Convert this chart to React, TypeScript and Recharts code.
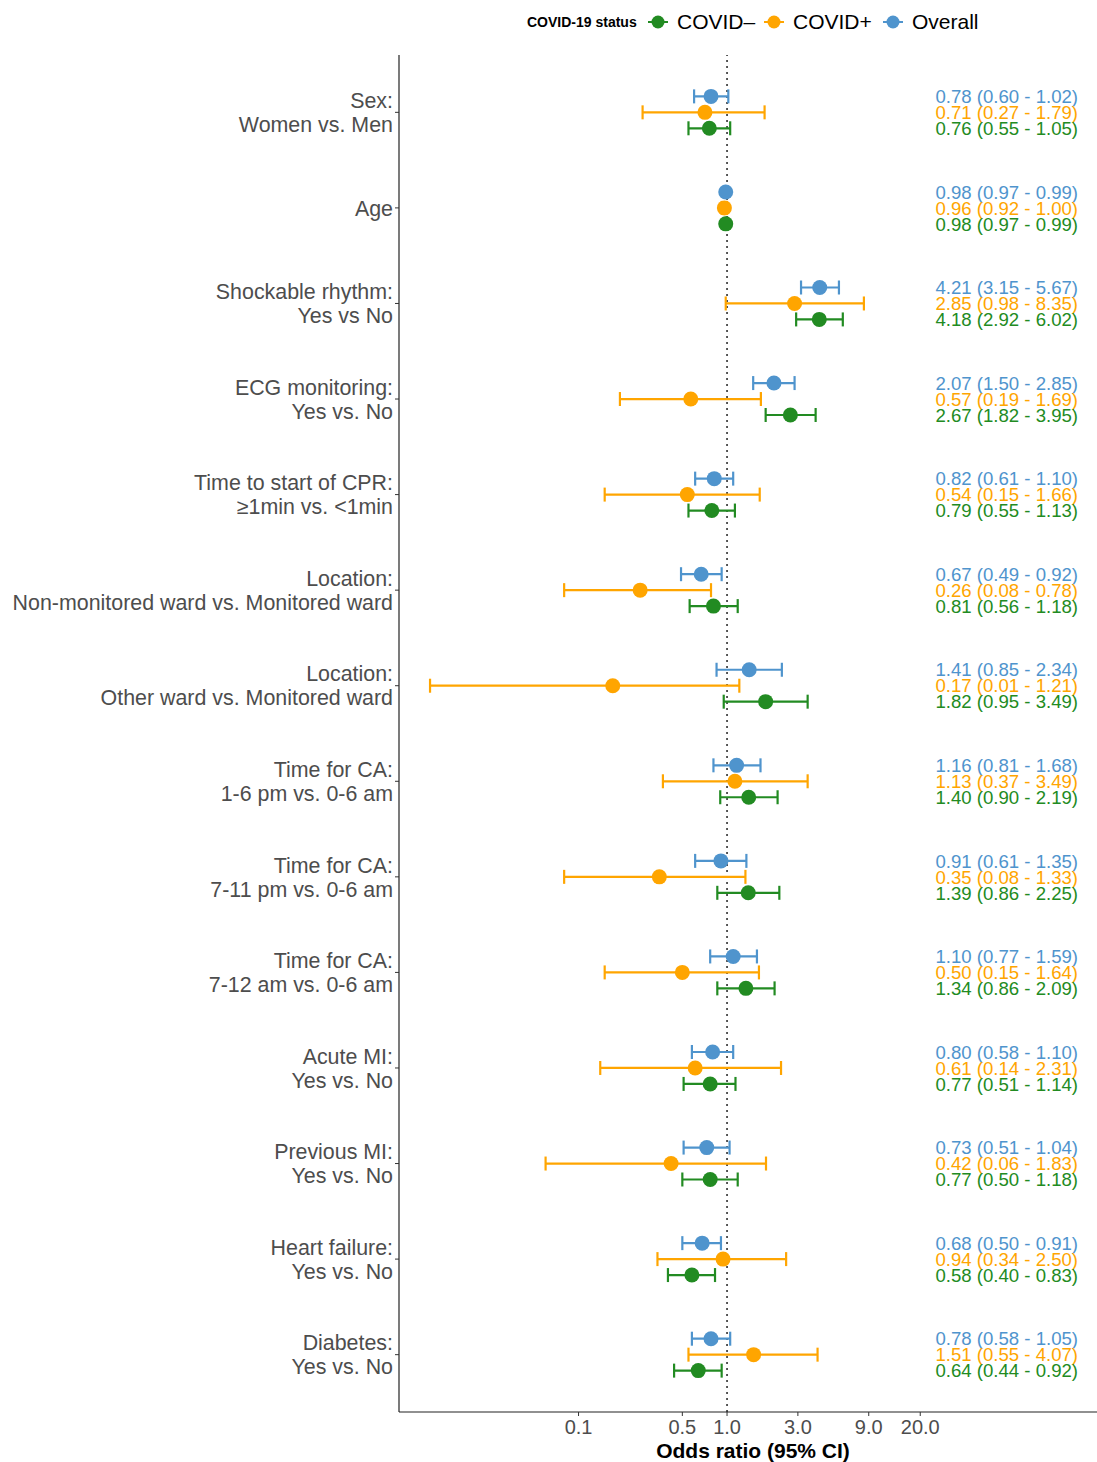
import { ScatterChart, Scatter, XAxis, YAxis, ErrorBar, ReferenceLine } from 'recharts'

const categories: string[][] = [
  ['Sex:', 'Women vs. Men'],
  ['Age'],
  ['Shockable rhythm:', 'Yes vs No'],
  ['ECG monitoring:', 'Yes vs. No'],
  ['Time to start of CPR:', '≥1min vs. <1min'],
  ['Location:', 'Non-monitored ward vs. Monitored ward'],
  ['Location:', 'Other ward vs. Monitored ward'],
  ['Time for CA:', '1-6 pm vs. 0-6 am'],
  ['Time for CA:', '7-11 pm vs. 0-6 am'],
  ['Time for CA:', '7-12 am vs. 0-6 am'],
  ['Acute MI:', 'Yes vs. No'],
  ['Previous MI:', 'Yes vs. No'],
  ['Heart failure:', 'Yes vs. No'],
  ['Diabetes:', 'Yes vs. No'],
]

const overallOR = [0.78, 0.98, 4.21, 2.07, 0.82, 0.67, 1.41, 1.16, 0.91, 1.10, 0.80, 0.73, 0.68, 0.78]
const overallLo = [0.60, 0.97, 3.15, 1.50, 0.61, 0.49, 0.85, 0.81, 0.61, 0.77, 0.58, 0.51, 0.50, 0.58]
const overallHi = [1.02, 0.99, 5.67, 2.85, 1.10, 0.92, 2.34, 1.68, 1.35, 1.59, 1.10, 1.04, 0.91, 1.05]

const posOR = [0.71, 0.96, 2.85, 0.57, 0.54, 0.26, 0.17, 1.13, 0.35, 0.50, 0.61, 0.42, 0.94, 1.51]
const posLo = [0.27, 0.92, 0.98, 0.19, 0.15, 0.08, 0.01, 0.37, 0.08, 0.15, 0.14, 0.06, 0.34, 0.55]
const posHi = [1.79, 1.00, 8.35, 1.69, 1.66, 0.78, 1.21, 3.49, 1.33, 1.64, 2.31, 1.83, 2.50, 4.07]

const negOR = [0.76, 0.98, 4.18, 2.67, 0.79, 0.81, 1.82, 1.40, 1.39, 1.34, 0.77, 0.77, 0.58, 0.64]
const negLo = [0.55, 0.97, 2.92, 1.82, 0.55, 0.56, 0.95, 0.90, 0.86, 0.86, 0.51, 0.50, 0.40, 0.44]
const negHi = [1.05, 0.99, 6.02, 3.95, 1.13, 1.18, 3.49, 2.19, 2.25, 2.09, 1.14, 1.18, 0.83, 0.92]

const xTicks = [0.1, 0.5, 1, 3, 9, 20]

const GREEN = '#228B22'
const ORANGE = '#FFA500'
const BLUE = '#4F94CD'
const GREY = '#4d4d4d'
const FONT = '"Liberation Sans", Arial, Helvetica, sans-serif'

// dodge within each category (overall on top, covid- at bottom)
const DODGE = 0.167
// x position (in OR units) where the right-hand estimate text ends
const LABEL_X = 231

const fmt = (v: number) => v.toFixed(2)

function build(or: number[], lo: number[], hi: number[], shift: number) {
  return or.map((v, i) => ({
    x: v,
    y: i + shift,
    err: [v - lo[i], hi[i] - v],
  }))
}

function buildLabels(or: number[], lo: number[], hi: number[], shift: number) {
  return or.map((v, i) => ({
    x: LABEL_X,
    y: i + shift,
    label: `${fmt(v)} (${fmt(lo[i])} - ${fmt(hi[i])})`,
  }))
}

const overallData = build(overallOR, overallLo, overallHi, -DODGE)
const posData = build(posOR, posLo, posHi, 0)
const negData = build(negOR, negLo, negHi, DODGE)

const overallText = buildLabels(overallOR, overallLo, overallHi, -DODGE)
const posText = buildLabels(posOR, posLo, posHi, 0)
const negText = buildLabels(negOR, negLo, negHi, DODGE)

const dot = (color: string) => (props: any) => {
  const { cx, cy } = props
  if (cx == null || cy == null) return <g />
  return <circle cx={cx} cy={cy} r={7.5} fill={color} />
}

const textShape = (color: string) => (props: any) => {
  const { cx, cy, payload } = props
  if (cx == null || cy == null) return <g />
  return (
    <text x={cx} y={cy} dy="0.36em" textAnchor="end" fill={color} fontSize={18.6} fontFamily={FONT}>
      {payload.label}
    </text>
  )
}

function YTick(props: any) {
  const { x, y, payload } = props
  const lines = categories[Math.round(payload.value)] || []
  const start = -((lines.length - 1) * 24) / 2
  return (
    <g>
      <line x1={x + 2} x2={x + 6} y1={y} y2={y} stroke="#333" strokeWidth={1} />
      {lines.map((l, i) => (
        <text key={i} x={x} y={y + start + i * 24} dy="0.36em" textAnchor="end" fill={GREY} fontSize={21.4} fontFamily={FONT}>
          {l}
        </text>
      ))}
    </g>
  )
}

function LegendKey({ color }: { color: string }) {
  return (
    <svg width={22} height={18} style={{ display: 'block' }}>
      <line x1={1} x2={21} y1={9} y2={9} stroke={color} strokeWidth={2} />
      <circle cx={11} cy={9} r={6.5} fill={color} />
    </svg>
  )
}

function TopLegend() {
  const item = (left: number, color: string, label: string) => (
    <div style={{ position: 'absolute', left, top: 0, height: 24, display: 'flex', alignItems: 'center', gap: 8 }}>
      <LegendKey color={color} />
      <span style={{ fontSize: 21, color: '#000', fontFamily: FONT }}>{label}</span>
    </div>
  )
  return (
    <div style={{ position: 'absolute', left: 0, top: 10, width: 1097, height: 24 }}>
      <div style={{ position: 'absolute', left: 527, top: 0, height: 24, display: 'flex', alignItems: 'center', fontSize: 14, fontWeight: 700, fontFamily: FONT }}>
        COVID-19 status
      </div>
      {item(647, GREEN, 'COVID–')}
      {item(763, ORANGE, 'COVID+')}
      {item(882, BLUE, 'Overall')}
    </div>
  )
}

export default function App() {
  return (
    <div style={{ position: 'absolute', left: 0, top: 0, width: 1097, height: 1462, background: '#fff', fontFamily: FONT }}>
      <TopLegend />
      <ScatterChart width={1097} height={1462} margin={{ top: 55, right: 0, bottom: 0, left: 0 }}>
        <XAxis
          type="number"
          dataKey="x"
          scale="log"
          domain={[0.00618, 310]}
          allowDataOverflow
          ticks={xTicks}
          interval={0}
          tickFormatter={(v: number) => (v < 0.5 ? String(v) : v.toFixed(1))}
          tick={{ fontSize: 20, fill: GREY, fontFamily: FONT }}
          tickSize={4}
          tickMargin={4}
          tickLine={{ stroke: '#333' }}
          axisLine={{ stroke: '#222', strokeWidth: 1.2 }}
          height={50}
          label={{
            value: 'Odds ratio (95% CI)',
            position: 'insideBottom',
            offset: 4,
            dx: 5,
            style: { fontSize: 21, fontWeight: 700, fill: '#000', fontFamily: FONT },
          }}
        />
        <YAxis
          type="number"
          dataKey="y"
          domain={[-0.6, 13.6]}
          allowDataOverflow
          reversed
          ticks={categories.map((_, i) => i)}
          interval={0}
          width={399}
          tick={<YTick />}
          tickLine={false}
          tickSize={0}
          tickMargin={6}
          axisLine={{ stroke: '#222', strokeWidth: 1.2 }}
        />
        <ReferenceLine x={1} stroke="#000" strokeWidth={1.3} strokeDasharray="2 4" />
        <Scatter data={posData} fill={ORANGE} shape={dot(ORANGE)} isAnimationActive={false}>
          <ErrorBar dataKey="err" direction="x" width={7} stroke={ORANGE} strokeWidth={2.2} />
        </Scatter>
        <Scatter data={overallData} fill={BLUE} shape={dot(BLUE)} isAnimationActive={false}>
          <ErrorBar dataKey="err" direction="x" width={7} stroke={BLUE} strokeWidth={2.2} />
        </Scatter>
        <Scatter data={negData} fill={GREEN} shape={dot(GREEN)} isAnimationActive={false}>
          <ErrorBar dataKey="err" direction="x" width={7} stroke={GREEN} strokeWidth={2.2} />
        </Scatter>
        <Scatter data={overallText} shape={textShape(BLUE)} isAnimationActive={false} />
        <Scatter data={posText} shape={textShape(ORANGE)} isAnimationActive={false} />
        <Scatter data={negText} shape={textShape(GREEN)} isAnimationActive={false} />
      </ScatterChart>
    </div>
  )
}
